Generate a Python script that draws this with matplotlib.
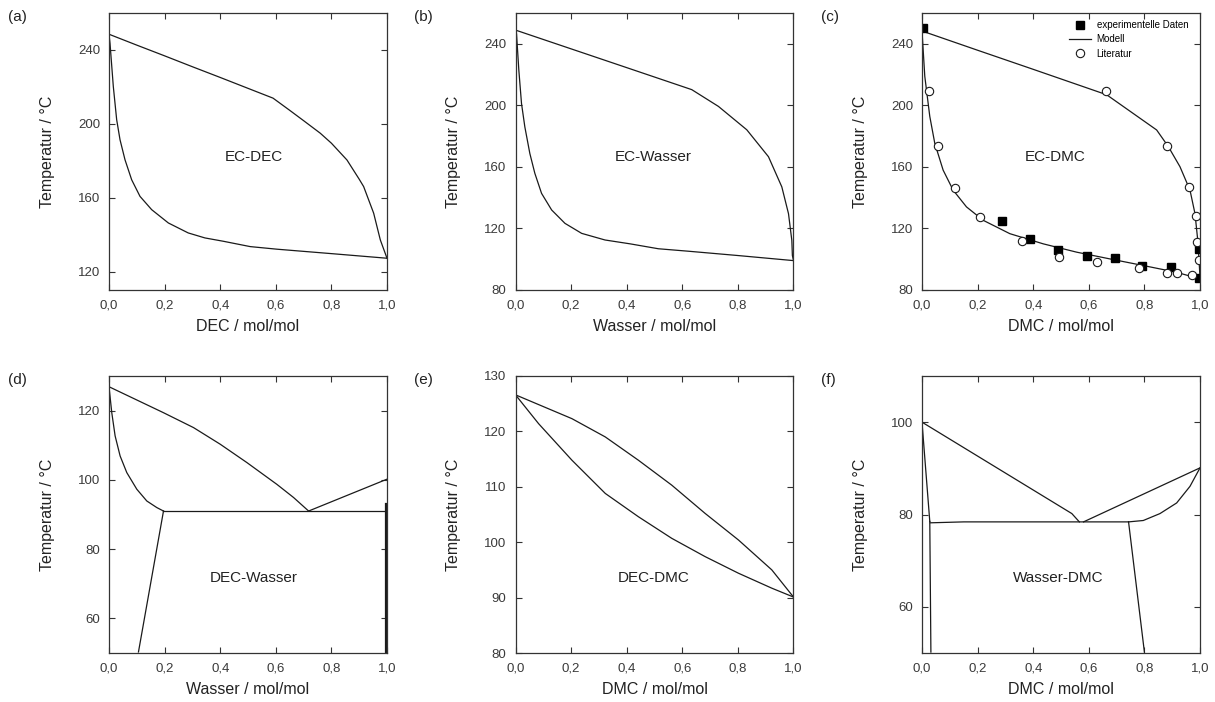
import matplotlib.pyplot as plt

plt.rcParams['font.family'] = ['Liberation Sans', 'DejaVu Sans']

# shared x axis ticks (mole fraction) with German decimal comma
x_ticks = [0.0, 0.2, 0.4, 0.6, 0.8, 1.0]
x_tick_labels = ['0,0', '0,2', '0,4', '0,6', '0,8', '1,0']

# (a) EC-DEC
ec_dec_dew_x = [0.0, 0.1, 0.2, 0.3, 0.4, 0.5, 0.59, 0.65, 0.7, 0.76, 0.8, 0.856, 0.9, 0.916, 0.952, 0.976, 1.0]
ec_dec_dew_T = [248.5, 242.6, 236.8, 230.9, 225.1, 219.2, 213.9, 207.3, 201.7, 194.9, 189.5, 180.4, 170.0, 166.0, 151.6, 137.1, 127.2]
ec_dec_bub_x = [0.0, 0.0036, 0.0155, 0.0276, 0.0396, 0.0576, 0.0815, 0.1115, 0.1535, 0.2135, 0.285,
                0.345, 0.411, 0.508, 0.604, 0.808, 1.0]
ec_dec_bub_T = [248.5, 243.6, 220.2, 202.2, 191.4, 180.5, 169.7, 160.7, 153.5, 146.3, 140.9,
                138.2, 136.4, 133.5, 132.1, 129.6, 127.2]

# (b) EC-Wasser
ec_w_dew_x = [0.0, 0.2, 0.4, 0.634, 0.73, 0.832, 0.91, 0.958, 0.982, 0.994, 0.996, 1.0]
ec_w_dew_T = [248.9, 236.7, 224.5, 210.2, 199.3, 184.1, 166.6, 147.0, 129.6, 112.2, 102.4, 99.1]
ec_w_bub_x = [0.0, 0.0036, 0.012, 0.0216, 0.0336, 0.0516, 0.0696, 0.0937, 0.13, 0.178, 0.238, 0.322,
              0.412, 0.514, 0.622, 0.8, 1.0]
ec_w_bub_T = [248.9, 246.6, 222.8, 201.2, 186.0, 168.7, 155.8, 142.8, 132.0, 123.3, 116.8, 112.5,
              110.0, 106.8, 105.2, 102.4, 99.1]

# (c) EC-DMC: model curves, own measurements, literature values
ec_dmc_dew_x = [0.0, 0.2, 0.4, 0.664, 0.844, 0.886, 0.928, 0.964, 0.982, 0.992, 0.998, 1.0]
ec_dmc_dew_T = [248.3, 235.8, 223.4, 206.9, 184.0, 173.2, 160.1, 144.9, 129.6, 112.2, 94.8, 87.2]
ec_dmc_bub_x = [0.0, 0.01, 0.028, 0.046, 0.076, 0.112, 0.16, 0.22, 0.316, 0.436, 0.556, 0.676, 0.796, 0.916, 1.0]
ec_dmc_bub_T = [248.3, 218.9, 192.8, 175.3, 157.9, 144.9, 134.0, 125.3, 116.6, 110.0, 104.6, 100.2, 95.9, 91.5, 87.2]
exp_x = [0.004, 0.288, 0.388, 0.491, 0.592, 0.696, 0.792, 0.894, 0.998, 0.998]
exp_T = [250.4, 124.6, 113.3, 106.3, 102.4, 100.9, 95.9, 94.8, 106.5, 87.5]
lit_x = [0.024, 0.058, 0.12, 0.208, 0.361, 0.493, 0.63, 0.782, 0.88, 0.918, 0.97,
         0.661, 0.882, 0.961, 0.986, 0.99, 0.995]
lit_T = [209.1, 173.6, 146.0, 127.4, 111.8, 101.3, 98.1, 94.0, 91.1, 90.9, 89.8,
         209.1, 173.6, 147.0, 127.9, 111.1, 99.2]

# (d) DEC-Wasser
dec_w_left_dew_x = [0.0, 0.196, 0.304, 0.4, 0.496, 0.604, 0.664, 0.718]
dec_w_left_dew_T = [126.9, 119.4, 115.1, 110.3, 105.0, 98.7, 94.9, 91.0]
dec_w_right_dew_x = [0.718, 1.0]
dec_w_right_dew_T = [91.0, 100.2]
dec_w_bub_x = [0.0, 0.01, 0.022, 0.04, 0.064, 0.1, 0.136, 0.172, 0.196]
dec_w_bub_T = [126.9, 119.4, 112.7, 106.9, 102.1, 97.3, 93.9, 92.0, 91.0]
dec_w_three_x = [0.196, 1.0]
dec_w_three_T = [91.0, 91.0]
dec_w_sol_left_x = [0.196, 0.106]
dec_w_sol_left_T = [91.0, 50.3]
dec_w_sol_right_x = [0.998, 0.998]
dec_w_sol_right_T = [92.9, 50.0]

# (e) DEC-DMC
dec_dmc_dew_x = [0.0, 0.203, 0.323, 0.442, 0.562, 0.682, 0.802, 0.922, 1.0]
dec_dmc_dew_T = [126.6, 122.3, 119.0, 114.8, 110.3, 105.2, 100.4, 95.0, 90.1]
dec_dmc_bub_x = [0.0, 0.083, 0.203, 0.323, 0.442, 0.562, 0.682, 0.802, 0.922, 1.0]
dec_dmc_bub_T = [126.6, 121.4, 114.8, 108.8, 104.6, 100.7, 97.4, 94.4, 91.7, 90.1]

# (f) Wasser-DMC
w_dmc_left_dew_x = [0.0, 0.539, 0.566]
w_dmc_left_dew_T = [100.0, 80.2, 78.4]
w_dmc_right_dew_x = [0.581, 1.0]
w_dmc_right_dew_T = [78.4, 90.1]
w_dmc_right_bub_x = [1.0, 0.964, 0.916, 0.856, 0.796, 0.743]
w_dmc_right_bub_T = [90.1, 86.1, 82.5, 80.2, 78.7, 78.4]
w_dmc_left_bub_x = [0.0, 0.028]
w_dmc_left_bub_T = [100.0, 78.5]
w_dmc_three_x = [0.03, 0.15, 0.743]
w_dmc_three_T = [78.2, 78.4, 78.4]
w_dmc_sol_left_x = [0.028, 0.032]
w_dmc_sol_left_T = [78.5, 50.2]
w_dmc_sol_right_x = [0.743, 0.8]
w_dmc_sol_right_T = [78.4, 50.2]

line_kw = dict(color='#1a1a1a', lw=0.9)

fig = plt.figure(figsize=(12.15, 7.02), dpi=100)

W, H = 1215, 702
col_left = [109, 515.5, 922]
row_top = [13, 376]
ax_w, ax_h = 278, 277


def make_ax(col, row):
    return fig.add_axes([col_left[col] / W, 1 - (row_top[row] + ax_h) / H, ax_w / W, ax_h / H])


def style(ax, ylim, yticks, xlabel, name, name_xy, letter):
    ax.set_xlim(0, 1)
    ax.set_ylim(*ylim)
    ax.set_xticks(x_ticks)
    ax.set_xticklabels(x_tick_labels)
    ax.set_yticks(yticks)
    ax.tick_params(direction='in', length=4.5, width=0.8, top=True, right=True,
                   labelsize=9.5, labelcolor='#3a3a3a', color='#333333', pad=6.5)
    for s in ax.spines.values():
        s.set_color('#333333')
        s.set_linewidth(0.9)
    ax.set_xlabel(xlabel, fontsize=11.5, color='#222222')
    ax.set_ylabel('Temperatur / °C', fontsize=11.5, color='#222222')
    ax.xaxis.set_label_coords(0.5, -0.105)
    ax.yaxis.set_label_coords(-0.195, 0.5)
    ax.text(name_xy[0], name_xy[1], name, ha='center', va='center', fontsize=11, color='#222222')
    bb = ax.get_position()
    fig.text(bb.x0 - 101 / W, bb.y1 - 4 / H, letter, ha='left', va='center', fontsize=11, color='#222222')


# (a)
ax = make_ax(0, 0)
ax.plot(ec_dec_dew_x, ec_dec_dew_T, **line_kw)
ax.plot(ec_dec_bub_x, ec_dec_bub_T, **line_kw)
style(ax, (110, 260), [120, 160, 200, 240], 'DEC / mol/mol', 'EC-DEC', (0.52, 182), '(a)')

# (b)
ax = make_ax(1, 0)
ax.plot(ec_w_dew_x, ec_w_dew_T, **line_kw)
ax.plot(ec_w_bub_x, ec_w_bub_T, **line_kw)
style(ax, (80, 260), [80, 120, 160, 200, 240], 'Wasser / mol/mol', 'EC-Wasser', (0.496, 166.6), '(b)')

# (c)
ax = make_ax(2, 0)
ax.plot(ec_dmc_bub_x, ec_dmc_bub_T, **line_kw, label='Modell', zorder=2)
ax.plot(ec_dmc_dew_x, ec_dmc_dew_T, **line_kw, zorder=2)
ax.plot(exp_x, exp_T, 's', color='black', ms=5.5, label='experimentelle Daten', zorder=3)
ax.plot(lit_x, lit_T, 'o', mfc='white', mec='#1a1a1a', mew=0.8, ms=6, label='Literatur', zorder=4)
style(ax, (80, 260), [80, 120, 160, 200, 240], 'DMC / mol/mol', 'EC-DMC', (0.478, 166.6), '(c)')
handles, labels = ax.get_legend_handles_labels()
order = [1, 0, 2]
ax.legend([handles[i] for i in order], [labels[i] for i in order], loc='upper left',
          bbox_to_anchor=(0.53, 0.975), frameon=False, fontsize=7, handlelength=2.2,
          handletextpad=0.6, labelspacing=0.45, borderpad=0, borderaxespad=0)
for side in ('left', 'right', 'top', 'bottom'):
    ax.spines[side].set_zorder(5)

# (d)
ax = make_ax(0, 1)
for xs, ts in [(dec_w_left_dew_x, dec_w_left_dew_T), (dec_w_right_dew_x, dec_w_right_dew_T),
               (dec_w_bub_x, dec_w_bub_T), (dec_w_three_x, dec_w_three_T),
               (dec_w_sol_left_x, dec_w_sol_left_T)]:
    ax.plot(xs, ts, **line_kw)
ax.plot(dec_w_sol_right_x, dec_w_sol_right_T, color='#1a1a1a', lw=1.6)
style(ax, (50, 130), [60, 80, 100, 120], 'Wasser / mol/mol', 'DEC-Wasser', (0.52, 71.8), '(d)')

# (e)
ax = make_ax(1, 1)
ax.plot(dec_dmc_dew_x, dec_dmc_dew_T, **line_kw)
ax.plot(dec_dmc_bub_x, dec_dmc_bub_T, **line_kw)
style(ax, (80, 130), [80, 90, 100, 110, 120, 130], 'DMC / mol/mol', 'DEC-DMC', (0.496, 93.5), '(e)')

# (f)
ax = make_ax(2, 1)
for xs, ts in [(w_dmc_left_dew_x, w_dmc_left_dew_T), (w_dmc_right_dew_x, w_dmc_right_dew_T),
               (w_dmc_right_bub_x, w_dmc_right_bub_T), (w_dmc_left_bub_x, w_dmc_left_bub_T),
               (w_dmc_three_x, w_dmc_three_T), (w_dmc_sol_left_x, w_dmc_sol_left_T),
               (w_dmc_sol_right_x, w_dmc_sol_right_T)]:
    ax.plot(xs, ts, **line_kw)
style(ax, (50, 110), [60, 80, 100], 'DMC / mol/mol', 'Wasser-DMC', (0.491, 66.3), '(f)')

fig.savefig('out.png', dpi=100)
